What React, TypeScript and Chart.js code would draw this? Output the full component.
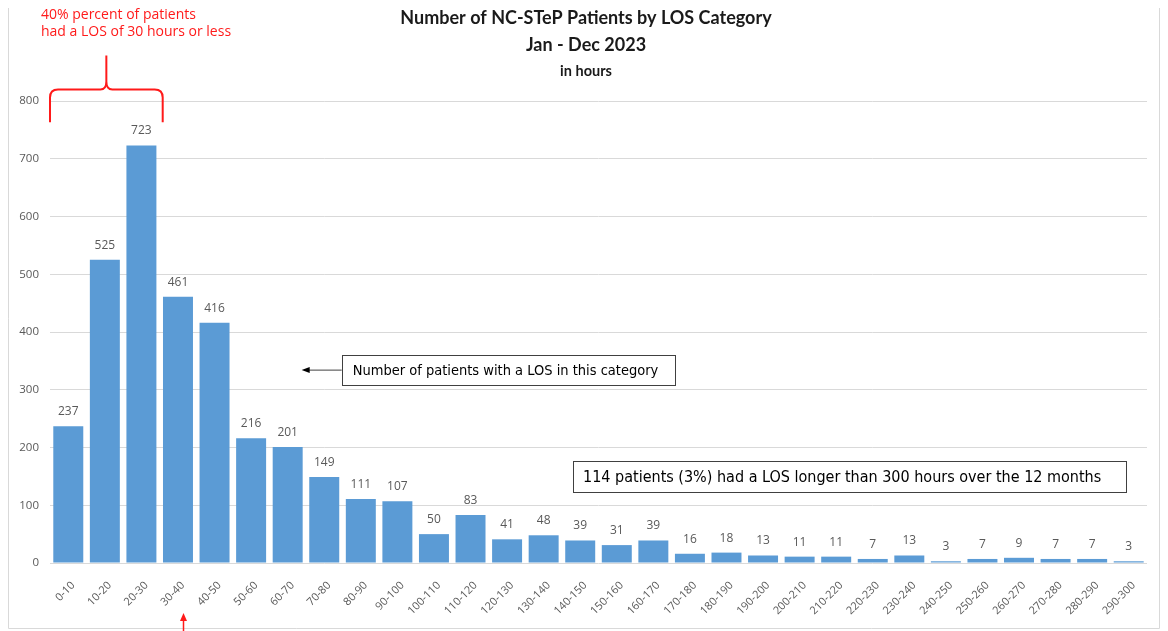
import React, { useEffect, useRef } from "react";
import { Chart, registerables } from "chart.js";

Chart.register(...registerables);

const categories = [
  "0-10", "10-20", "20-30", "30-40", "40-50", "50-60", "60-70", "70-80", "80-90", "90-100",
  "100-110", "110-120", "120-130", "130-140", "140-150", "150-160", "160-170", "170-180", "180-190", "190-200",
  "200-210", "210-220", "220-230", "230-240", "240-250", "250-260", "260-270", "270-280", "280-290", "290-300",
];
const patients = [
  237, 525, 723, 461, 416, 216, 201, 149, 111, 107,
  50, 83, 41, 48, 39, 31, 39, 16, 18, 13,
  11, 11, 7, 13, 3, 7, 9, 7, 7, 3,
];
const yMax = 800;
const yStep = 100;

const titleLines = ["Number of NC-STeP Patients by LOS Category", "Jan - Dec 2023"];
const subtitleText = "in hours";
const redNote = ["40% percent of patients", "had a LOS of 30 hours or less"];
const boxNote1 = "Number of patients with a LOS in this category";
const boxNote2 = "114 patients (3%) had a LOS longer than 300 hours over the 12 months";

const W = 1152;
const H = 623;

const annotPlugin = {
  id: "annots",
  afterDraw(chart: any) {
    const { ctx, chartArea, scales } = chart;
    const xs = scales.x;
    const ys = scales.y;
    const meta = chart.getDatasetMeta(0);
    ctx.save();

    // frame
    ctx.strokeStyle = "#d9d9d9";
    ctx.lineWidth = 1;
    ctx.beginPath();
    ctx.moveTo(0.5, 0);
    ctx.lineTo(0.5, 620.5);
    ctx.lineTo(W - 0.5, 620.5);
    ctx.lineTo(W - 0.5, 0);
    ctx.stroke();

    // titles
    ctx.fillStyle = "#1a1a1a";
    ctx.textAlign = "center";
    ctx.textBaseline = "middle";
    ctx.font = "bold 18px Lato";
    const cx = 578;
    ctx.fillText(titleLines[0], cx, 10);
    ctx.fillText(titleLines[1], cx, 37);
    ctx.font = "bold 14.5px Lato";
    ctx.fillText(subtitleText, cx, 63);

    // data labels
    ctx.fillStyle = "#595959";
    ctx.font = "12px 'Open Sans'";
    ctx.textBaseline = "alphabetic";
    meta.data.forEach((bar: any, i: number) => {
      ctx.fillText(String(patients[i]), bar.x, bar.y - 11);
    });

    const catW = (chartArea.right - chartArea.left) / categories.length;

    // red note text
    ctx.fillStyle = "#ff1a1a";
    ctx.textAlign = "left";
    ctx.textBaseline = "middle";
    ctx.font = "14px 'Open Sans'";
    ctx.fillText(redNote[0], 33, 7);
    ctx.fillText(redNote[1], 33, 24);

    // brace over first three categories
    const bx0 = xs.getPixelForValue(0) - catW / 2;
    const bx1 = xs.getPixelForValue(2) + catW / 2 + 3;
    const bm = (bx0 + bx1) / 2;
    const yTip = ys.getPixelForValue(763);
    const yH = ys.getPixelForValue(820);
    const yPeak = yH - 34;
    const r = 8;
    ctx.strokeStyle = "#ff1a1a";
    ctx.lineWidth = 2;
    ctx.beginPath();
    ctx.moveTo(bx0, yTip);
    ctx.lineTo(bx0, yH + r);
    ctx.quadraticCurveTo(bx0, yH, bx0 + r, yH);
    ctx.lineTo(bm - 6, yH);
    ctx.quadraticCurveTo(bm, yH, bm, yH - 8);
    ctx.lineTo(bm, yPeak);
    ctx.moveTo(bm, yH - 8);
    ctx.quadraticCurveTo(bm, yH, bm + 6, yH);
    ctx.lineTo(bx1 - r, yH);
    ctx.quadraticCurveTo(bx1, yH, bx1, yH + r);
    ctx.lineTo(bx1, yTip);
    ctx.stroke();

    // bottom red arrow pointing at the 30-40 label
    const ax = Math.round(xs.getPixelForValue(3) + 5) + 0.5;
    ctx.fillStyle = "#ff1a1a";
    ctx.lineWidth = 1.5;
    ctx.beginPath();
    ctx.moveTo(ax, H);
    ctx.lineTo(ax, 612);
    ctx.stroke();
    ctx.beginPath();
    ctx.moveTo(ax, 605);
    ctx.lineTo(ax - 3.5, 613);
    ctx.lineTo(ax + 3.5, 613);
    ctx.closePath();
    ctx.fill();

    // box note 1 with arrow
    const tipX = meta.data[6].x + meta.data[6].width / 2 - 1;
    const midY = ys.getPixelForValue(334);
    const box1L = tipX + 40;
    const box1W = 333;
    const box1H = 30;
    ctx.strokeStyle = "#404040";
    ctx.lineWidth = 1;
    ctx.fillStyle = "#ffffff";
    ctx.fillRect(box1L, midY - box1H / 2, box1W, box1H);
    ctx.strokeRect(Math.round(box1L) + 0.5, Math.round(midY - box1H / 2) + 0.5, box1W, box1H);
    ctx.beginPath();
    ctx.moveTo(box1L, midY);
    ctx.lineTo(tipX + 7, midY);
    ctx.stroke();
    ctx.fillStyle = "#000000";
    ctx.beginPath();
    ctx.moveTo(tipX, midY);
    ctx.lineTo(tipX + 8, midY - 3);
    ctx.lineTo(tipX + 8, midY + 3);
    ctx.closePath();
    ctx.fill();
    ctx.fillStyle = "#000000";
    ctx.font = "14.5px 'DejaVu Sans Condensed', 'DejaVu Sans'";
    ctx.textAlign = "left";
    ctx.fillText(boxNote1, box1L + 11, midY + 1);

    // box note 2
    const box2Y = ys.getPixelForValue(150);
    const box2L = 565;
    const box2W = 553;
    const box2H = 31;
    ctx.fillStyle = "#ffffff";
    ctx.fillRect(box2L, box2Y - box2H / 2, box2W, box2H);
    ctx.strokeRect(box2L + 0.5, Math.round(box2Y - box2H / 2) + 0.5, box2W, box2H);
    ctx.fillStyle = "#000000";
    ctx.font = "16px 'DejaVu Sans Condensed', 'DejaVu Sans'";
    ctx.fillText(boxNote2, box2L + 10, box2Y + 1);

    ctx.restore();
  },
};

export default function App() {
  const ref = useRef<HTMLCanvasElement | null>(null);

  useEffect(() => {
    if (!ref.current) return;
    const chart = new Chart(ref.current, {
      type: "bar",
      data: {
        labels: categories,
        datasets: [
          {
            data: patients,
            backgroundColor: "#5b9bd5",
            borderWidth: 0,
            categoryPercentage: 1,
            barPercentage: 0.82,
          },
        ],
      },
      options: {
        responsive: false,
        animation: false,
        layout: { padding: { top: 93, left: 8, right: 13, bottom: 8 } },
        plugins: {
          legend: { display: false },
          tooltip: { enabled: false },
          title: { display: false },
        },
        scales: {
          x: {
            grid: { display: false },
            border: { display: false },
            ticks: {
              autoSkip: false,
              minRotation: 45,
              maxRotation: 45,
              color: "#595959",
              font: { family: "'Open Sans'", size: 11 },
              padding: 8,
              labelOffset: 5,
            },
            afterFit: (s: any) => {
              s.height = 60;
            },
          },
          y: {
            min: 0,
            max: yMax,
            grid: { color: "#d9d9d9", drawTicks: false },
            border: { display: false },
            ticks: {
              stepSize: yStep,
              color: "#595959",
              font: { family: "'Open Sans'", size: 11.5 },
              padding: 11,
            },
            afterFit: (s: any) => {
              s.width = 34;
            },
          },
        },
      },
      plugins: [annotPlugin],
    });
    return () => chart.destroy();
  }, []);

  return (
    <div style={{ width: W, height: H }}>
      <canvas ref={ref} width={W} height={H} style={{ display: "block" }} />
    </div>
  );
}
